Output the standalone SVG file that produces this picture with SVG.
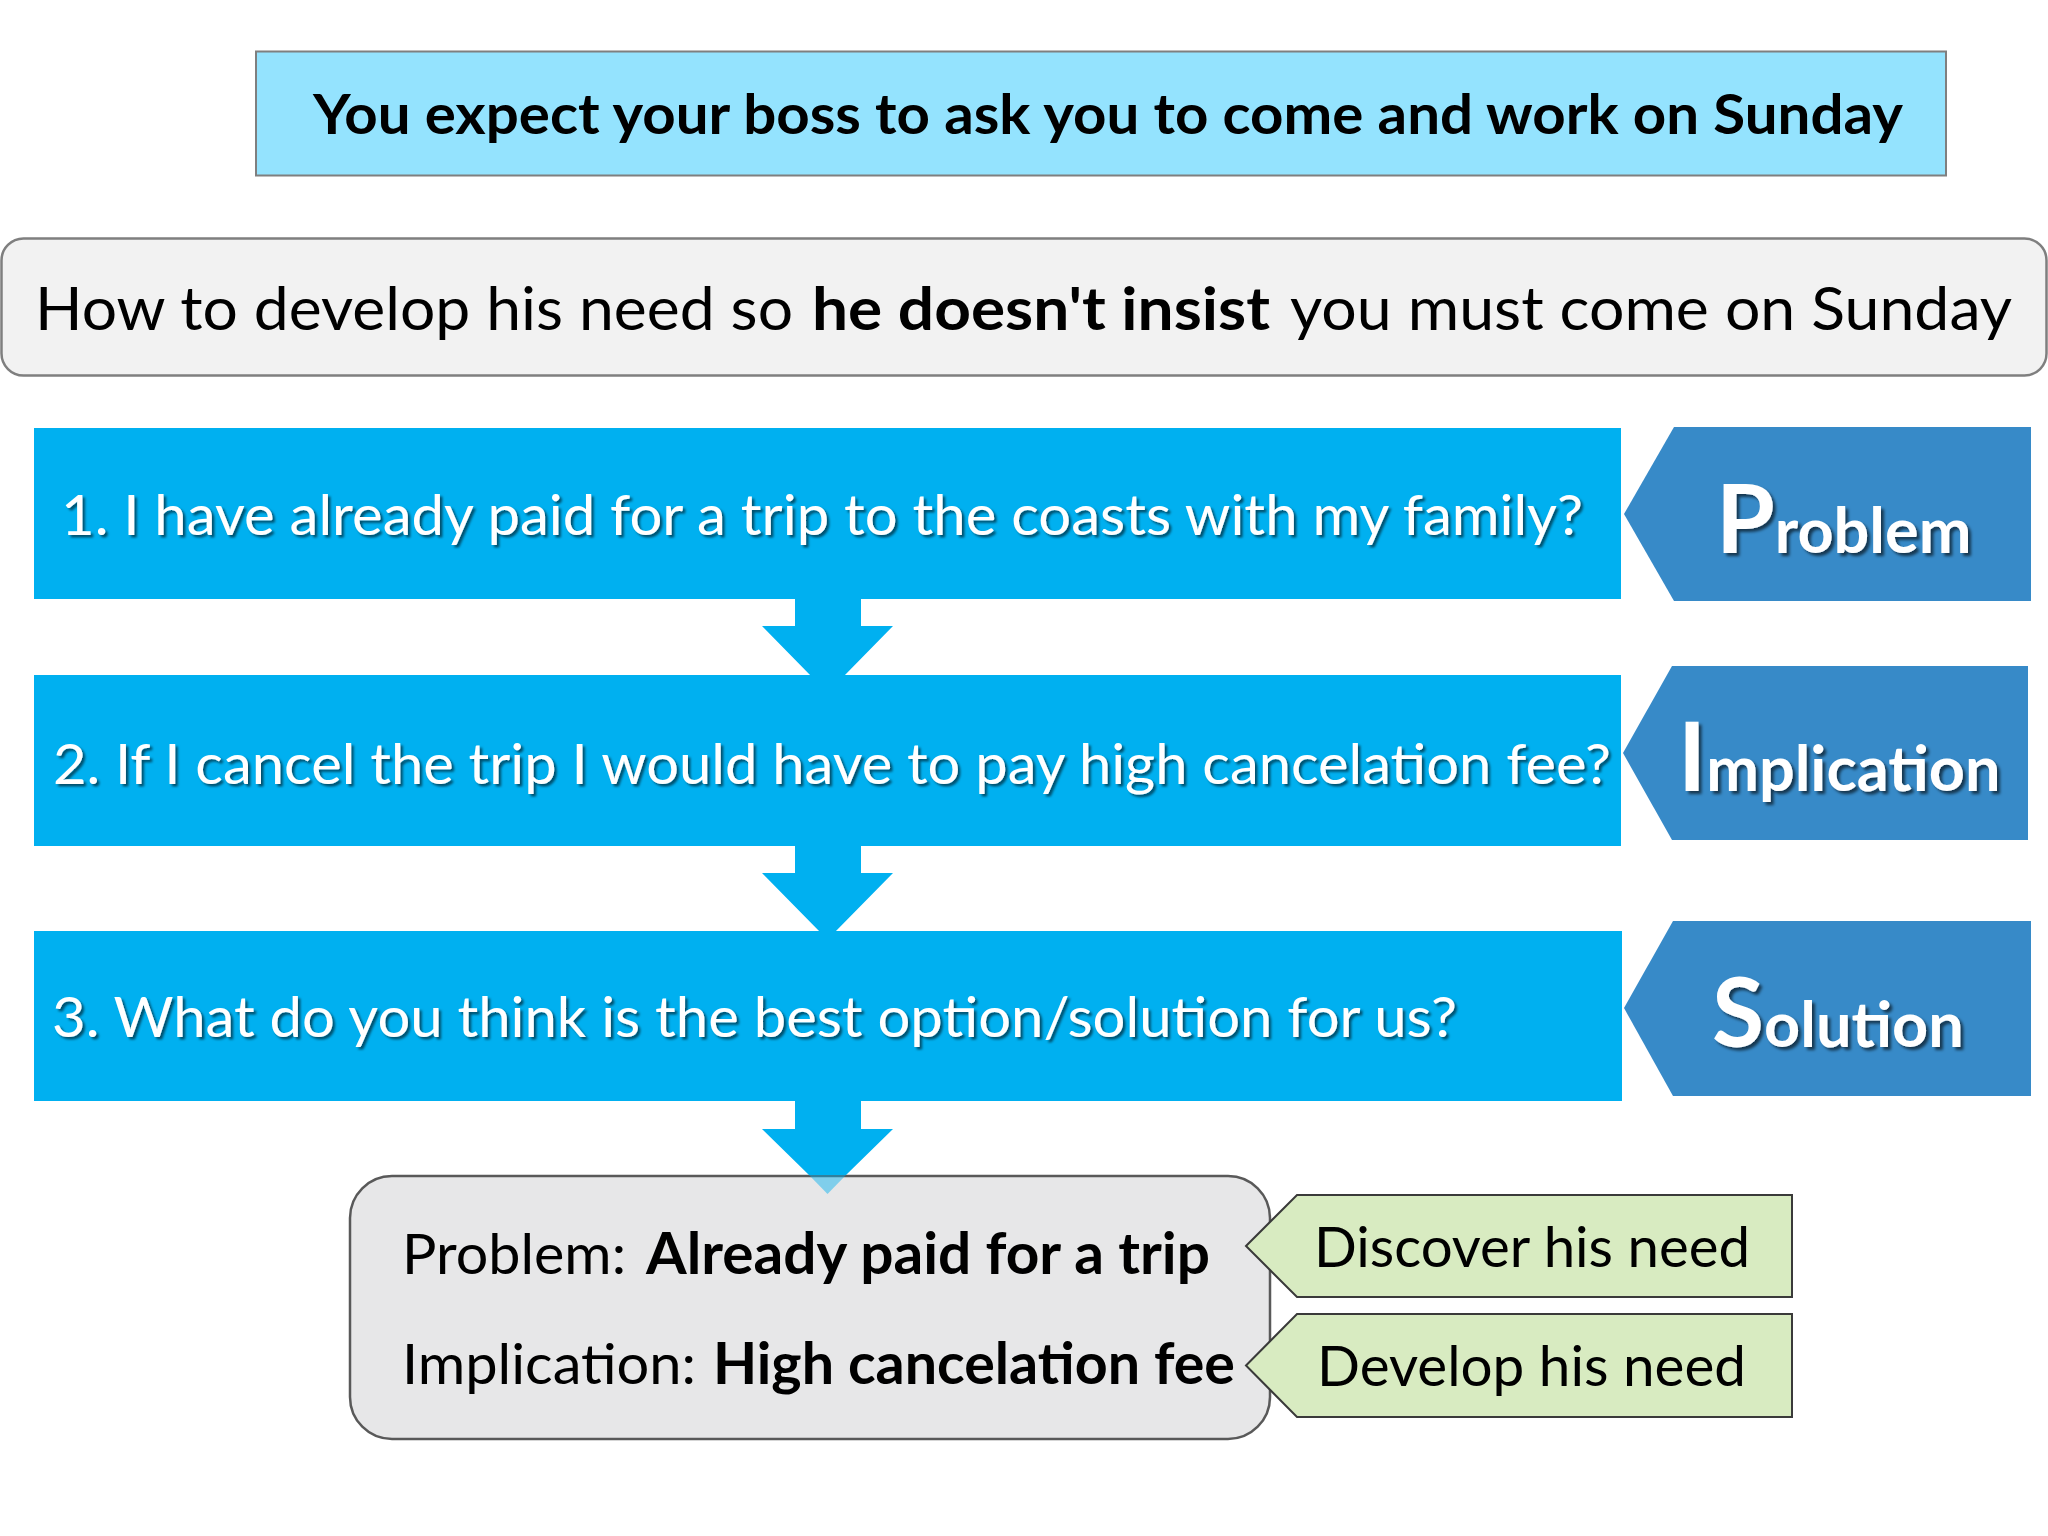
<svg xmlns="http://www.w3.org/2000/svg" width="2048" height="1536" viewBox="0 0 2048 1536">
<defs>
<filter id="sh" x="-5%" y="-20%" width="110%" height="140%">
<feDropShadow dx="2.5" dy="2.5" stdDeviation="1.2" flood-color="#000" flood-opacity="0.55"/>
</filter>
<filter id="sh2" x="-5%" y="-20%" width="110%" height="140%">
<feDropShadow dx="3" dy="3" stdDeviation="1.5" flood-color="#000" flood-opacity="0.6"/>
</filter>
</defs>
<style>
.t{font-family:Lato,"Liberation Sans",sans-serif;}
.b{font-weight:700;}
.blue{fill:#00b0f0;}
.q{fill:#fff;font-size:56px;}
.lab{fill:#378ac8;}
.lt{fill:#fff;font-weight:700;font-size:63px;}
.big{font-size:95px;}
.tag{fill:#d8ebc1;stroke:#3a3a3a;stroke-width:2;}
</style>
<rect width="2048" height="1536" fill="#fff"/>

<g id="title">
<rect x="256" y="51.5" width="1690" height="124" fill="#94e3fe" stroke="#7f7f7f" stroke-width="2"/>
<text class="t b" x="313" y="134" font-size="56" textLength="1590" lengthAdjust="spacingAndGlyphs">You expect your boss to ask you to come and work on Sunday</text>
</g>

<g id="question">
<rect x="1.5" y="238.5" width="2045" height="137" rx="22" fill="#f2f2f2" stroke="#7f7f7f" stroke-width="2.5"/>
<text class="t" x="35" y="330" font-size="60" textLength="758" lengthAdjust="spacingAndGlyphs">How to develop his need so</text>
<text class="t b" x="812" y="330" font-size="60" textLength="458" lengthAdjust="spacingAndGlyphs">he doesn't insist</text>
<text class="t" x="1290" y="330" font-size="60" textLength="722" lengthAdjust="spacingAndGlyphs">you must come on Sunday</text>
</g>

<g id="step1">
<rect class="blue" x="34" y="428" width="1587" height="171"/>
<text class="t q" x="61" y="535" filter="url(#sh)" textLength="1522" lengthAdjust="spacingAndGlyphs">1. I have already paid for a trip to the coasts with my family?</text>
</g>
<g id="step2">
<rect class="blue" x="34" y="675" width="1587" height="171"/>
<text class="t q" x="53" y="784" filter="url(#sh)" textLength="1558" lengthAdjust="spacingAndGlyphs">2. If I cancel the trip I would have to pay high cancelation fee?</text>
</g>
<g id="step3">
<rect class="blue" x="34" y="931" width="1588" height="170"/>
<text class="t q" x="52" y="1037" filter="url(#sh)" textLength="1405" lengthAdjust="spacingAndGlyphs">3. What do you think is the best option/solution for us?</text>
</g>

<g id="label-problem">
<polygon class="lab" points="1624,514 1674,427 2031,427 2031,601 1674,601"/>
<text class="t lt" x="1716" y="553" filter="url(#sh2)"><tspan class="big">P</tspan>roblem</text>
</g>
<g id="label-implication">
<polygon class="lab" points="1623,753 1672,666 2028,666 2028,840 1672,840"/>
<text class="t lt" x="1678" y="791" filter="url(#sh2)"><tspan class="big">I</tspan>mplication</text>
</g>
<g id="label-solution">
<polygon class="lab" points="1624,1008 1673,921 2031,921 2031,1096 1673,1096"/>
<text class="t lt" x="1712" y="1047" filter="url(#sh2)"><tspan class="big">S</tspan>olution</text>
</g>

<g id="summary">
<rect x="350" y="1176" width="920" height="263" rx="42" fill="#e7e7e8" stroke="#595959" stroke-width="2.5"/>
<text class="t" x="402" y="1274" font-size="57" textLength="224" lengthAdjust="spacingAndGlyphs">Problem:</text>
<text class="t b" x="646" y="1274" font-size="57" textLength="564" lengthAdjust="spacingAndGlyphs">Already paid for a trip</text>
<text class="t" x="402" y="1384" font-size="57" textLength="294" lengthAdjust="spacingAndGlyphs">Implication:</text>
<text class="t b" x="713" y="1384" font-size="57" textLength="522" lengthAdjust="spacingAndGlyphs">High cancelation fee</text>
</g>

<g id="tag-discover">
<polygon class="tag" points="1246,1246 1297,1195 1792,1195 1792,1297 1297,1297"/>
<text class="t" x="1314" y="1267" font-size="56" textLength="436" lengthAdjust="spacingAndGlyphs">Discover his need</text>
</g>
<g id="tag-develop">
<polygon class="tag" points="1246,1365.5 1297,1314 1792,1314 1792,1417 1297,1417"/>
<text class="t" x="1317" y="1386" font-size="56" textLength="429" lengthAdjust="spacingAndGlyphs">Develop his need</text>
</g>

<g id="connectors">
<polygon class="blue" points="795,598 861,598 861,626 893,626 844,676 811,676 762,626 795,626"/>
<polygon class="blue" points="795,845 861,845 861,873 893,873 835,932 820,932 762,873 795,873"/>
<polygon class="blue" points="795,1100 861,1100 861,1129 893,1129 846,1175 809,1175 762,1129 795,1129"/>
<polygon class="blue" points="809,1175 846,1175 827.5,1194" fill-opacity="0.45"/>
</g>
</svg>
